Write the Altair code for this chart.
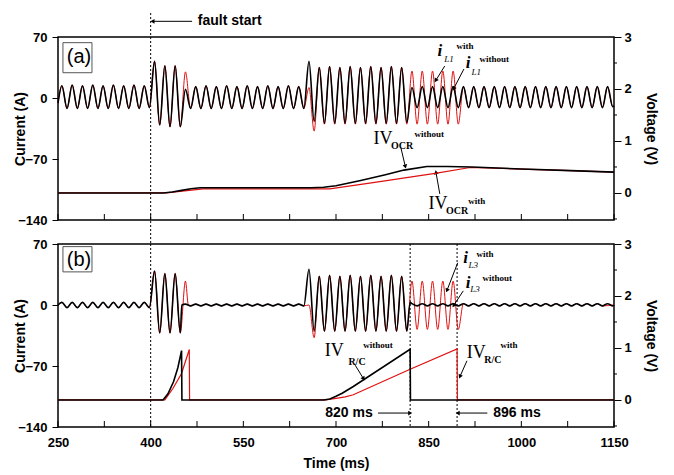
import math
import altair as alt
import pandas as pd

# ---------------- layout constants ----------------
W, H = 556, 183
T_DOM = [250, 1150]
I_DOM = [-140, 70]
V_DOM = [-0.52, 3]
RED = "#e01010"

# ---------------- data ----------------
# times of the successive current extrema (peak, trough, peak, ...) of the 60 Hz traces
ext_t = [round(256.3 + 8.333 * k, 2) for k in range(108)]

# (a) i_L1 without (black) - extrema values, A
a_black_ext = [
    14, -12, 15, -12, 14, -12, 15, -12, 14, -12, 15, -12, 14, -12, 15, -12, 14, -11,
    42, -31, 37, -33, 37, -33,
    10, -12, 13, -12, 14, -12, 13, -12, 14, -12, 13, -12, 14, -12, 13, -12, 14, -12,
    13, -12, 14, -12, 13, -12,
    42, -27, 35, -29, 36, -29, 35, -29, 36, -29, 35, -29, 36, -29, 35, -29, 36, -29,
    35, -28,
    12, -11, 13, -11, 13, -11, 13, -11, 13, -11, 13, -11, 13, -11, 13, -11, 13, -11,
    13, -11, 13, -11, 13, -11, 13, -11, 13, -11, 13, -11, 13, -11, 13, -11, 13, -11,
    13, -11, 13, -10,
]
a_black_extra = [(250, -6), (1150, -9)]

# (a) i_L1 with (red)
a_red_ext = [
    14, -12, 15, -12, 14, -12, 15, -12, 14, -12, 15, -12, 14, -12, 15, -12, 14, -11,
    42, -31, 37, -33, 37, -33,
    30, -12, 13, -12, 14, -12, 13, -12, 14, -12, 13, -12, 14, -12, 13, -12, 14, -12,
    13, -12, 14, -12, 13, -12,
    12, -38, 35, -30, 36, -30, 35, -30, 36, -30, 35, -30, 36, -30, 35, -30, 36, -30,
    35, -30,
    31, -30, 31, -30, 31, -30, 31, -30, 31, -30, 13, -11, 13, -11, 13, -11, 13, -11,
    13, -11, 13, -11, 13, -11, 13, -11, 13, -11, 13, -11, 13, -11, 13, -11, 13, -11,
    13, -11, 13, -10,
]
a_red_extra = [(250, -6), (1150, -9)]

# (b) i_L3 without (black)
b_black_ext = [
    3, -3, 3, -3, 3, -3, 3, -3, 3, -3, 3, -3, 3, -3, 3, -3, 3, -3,
    39, -32, 36, -32, 36, -32,
    1, -1, 1, -1, 1, -1, 1, -1, 1, -1, 1, -1, 1, -1, 1, -1, 1, -1, 1, -1, 1, -1, 1, -1,
    41, -30, 33, -30, 34, -30, 33, -30, 34, -30, 33, -30, 34, -30, 33, -30, 34, -30,
    33, -30,
    1.5, -1, 1.5, -1, 1.5, -1, 1.5, -1, 1.5, -1, 1.5, -1, 1.5, -1, 1.5, -1, 1.5, -1,
    1.5, -1, 1.5, -1, 1.5, -1, 1.5, -1, 1.5, -1, 1.5, -1, 1.5, -1, 1.5, -1, 1.5, -1,
    1.5, -1, 1.5, -1,
]
b_black_extra = [(250, 0), (450.5, 0), (820, 3), (1150, 0)]

# (b) i_L3 with (red)
b_red_ext = [
    3, -3, 3, -3, 3, -3, 3, -3, 3, -3, 3, -3, 3, -3, 3, -3, 3, -3,
    39, -32, 36, -32, 36, -32,
    27.5, -1, 1, -1, 1, -1, 1, -1, 1, -1, 1, -1, 1, -1, 1, -1, 1, -1, 1, -1, 1, -1, 1, -1,
    0, -37.5, 33, -30, 34, -30, 33, -30, 34, -30, 33, -30, 34, -30, 33, -30, 34, -30,
    33, -30,
    27.5, -28, 27.5, -28, 27.5, -28, 27.5, -28, 27.5, -28, 1.5, -1, 1.5, -1, 1.5, -1,
    1.5, -1, 1.5, -1, 1.5, -1, 1.5, -1, 1.5, -1, 1.5, -1, 1.5, -1, 1.5, -1, 1.5, -1,
    1.5, -1, 1.5, -1,
]
b_red_extra = [(250, 0), (461, 0), (1150, 0)]

# voltages (V)
a_black_v_t = [250, 420, 435, 450, 465, 480, 520, 600, 660, 680, 700, 740, 780, 810, 847, 880, 920, 1000, 1080, 1150]
a_black_v = [0.0, 0.0, 0.02, 0.05, 0.08, 0.10, 0.10, 0.10, 0.10, 0.11, 0.14, 0.24, 0.35, 0.44, 0.51, 0.51, 0.50, 0.46, 0.43, 0.40]
a_red_v_t = [250, 425, 440, 455, 470, 485, 520, 600, 690, 760, 863, 917, 1000, 1080, 1150]
a_red_v = [0.0, 0.0, 0.02, 0.04, 0.06, 0.08, 0.08, 0.08, 0.08, 0.20, 0.38, 0.49, 0.46, 0.43, 0.40]
b_black_v_t = [250, 420, 428, 437, 444, 450, 450.6, 680, 690, 700, 710, 728, 820, 820.5, 1150]
b_black_v = [0, 0, 0.12, 0.35, 0.62, 0.95, 0, 0, 0.02, 0.07, 0.13, 0.26, 0.975, 0, 0]
b_red_v_t = [250, 423, 436, 450, 462.5, 463, 683, 700, 715, 728, 820, 896, 896.5, 1150]
b_red_v = [0, 0, 0.22, 0.51, 0.97, 0, 0, 0.03, 0.06, 0.10, 0.59, 0.98, 0, 0]

x_major = [250, 400, 550, 700, 850, 1000, 1150]
x_minor = [325, 475, 625, 775, 925, 1075]
i_ticks = [70, 0, -70, -140]
v_ticks = [0, 1, 2, 3]
v_minor = [-0.5, 0.5, 1.5, 2.5]

# annotations: (text, t, current-position, style)
a_texts = [
    ("fault start", 528, 88, "sans"),
    ("i", 868, 54, "ibig"), ("L1", 883, 45, "isub"), ("with", 909, 60, "sup"),
    ("i", 914, 40, "ibig"), ("L1", 927, 30, "isub"), ("without", 956, 45, "sup"),
    ("IV", 776, -47, "iv"), ("OCR", 807, -55, "bsub"), ("without", 851, -41, "sup"),
    ("IV", 865, -122, "iv"), ("OCR", 896, -130, "bsub"), ("with", 928, -118, "sup"),
]
b_texts = [
    ("i", 910, 54, "ibig"), ("L3", 922, 46, "isub"), ("with", 941, 58.5, "sup"),
    ("i", 914, 25, "ibig"), ("L3", 925, 18, "isub"), ("without", 961, 31, "sup"),
    ("IV", 697, -53, "iv"), ("R/C", 734, -65, "bsub"), ("without", 768, -46, "sup"),
    ("IV", 927, -55, "iv"), ("R/C", 954, -63, "bsub"), ("with", 980, -46, "sup"),
    ("820 ms", 721, -124, "sans"), ("896 ms", 993, -124, "sans"),
]
# arrows: t1, y1 -> t2, y2 (head at the second point)
a_arrows = [
    (467, 88, 404, 88),
    (876, 36.7, 862, 20.7),
    (907, 33.2, 891, 11.4),
    (805, -57, 812, -78),
    (868, -110, 862, -86),
]
b_arrows = [
    (897, 48.4, 880, 17.4),
    (906, 16.2, 891, 0),
    (731, -69, 744, -84),
    (912, -64, 901, -81.5),
    (768, -124, 819, -124),
    (945, -124, 898, -124),
]
# dotted marker lines: t, top, bottom (current units)
a_vlines = [(400, 97.5, -167.5)]
b_vlines = [(400, 70, -140), (820, 70, -140), (896, 70, -140)]
a_box = (258, 305, 63.5, 29, "(a)", 284, 47)
b_box = (258, 305, 67, 38, "(b)", 284, 52)

STYLES = {
    "sans": dict(font="Liberation Sans", fontSize=14, fontWeight="bold"),
    "ibig": dict(font="Liberation Serif", fontSize=17, fontWeight="bold", fontStyle="italic"),
    "isub": dict(font="Liberation Serif", fontSize=9, fontStyle="italic"),
    "sup": dict(font="Liberation Serif", fontSize=9, fontWeight="bold"),
    "iv": dict(font="Liberation Serif", fontSize=18),
    "bsub": dict(font="Liberation Serif", fontSize=10, fontWeight="bold"),
}


def current_df(vals, extra):
    pts = list(zip(ext_t, vals)) + list(extra)
    pts.sort()
    return pd.DataFrame(pts, columns=["t", "v"])


def build_panel(cur_red, cur_black, volt_red, volt_black, texts, arrows, vlines, box, show_x):
    xscale = alt.Scale(domain=T_DOM, nice=False, zero=False)
    if show_x:
        xaxis = alt.Axis(values=x_major, format="d", title="Time (ms)", ticks=False, tickSize=0,
                         labelPadding=9, domain=False, grid=False, labelFlush=False,
                         titleY=36, titleBaseline="middle")
    else:
        xaxis = None
    iscale = alt.Scale(domain=I_DOM, nice=False, zero=False)
    iaxis = alt.Axis(values=i_ticks, format="d", title="Current (A)", orient="left", tickSize=6,
                     labelPadding=5, domain=False, grid=False, labelFlush=False,
                     titleX=-38, titleY=H / 2, titleAngle=270, titleBaseline="middle",
                     titleAlign="center")
    vscale = alt.Scale(domain=V_DOM, nice=False, zero=False)
    vaxis = alt.Axis(values=v_ticks, format="d", title="Voltage (V)", orient="right",
                     tickSize=7, labelPadding=3, domain=False, grid=False, labelFlush=False,
                     titleX=36, titleY=H / 2, titleAngle=90, titleBaseline="middle",
                     titleAlign="center")

    def X(f):
        return alt.X(f, type="quantitative", scale=xscale, axis=xaxis)

    def YI(f):
        return alt.Y(f, type="quantitative", scale=iscale, axis=iaxis)

    def YV(f):
        return alt.Y(f, type="quantitative", scale=vscale, axis=vaxis)

    ticks_df = pd.DataFrame({"t": x_major + x_minor})
    inward = alt.Chart(ticks_df).mark_rule(color="black", strokeWidth=1).encode(
        x=X("t"), y=alt.value(H), y2=alt.value(H - 6))

    vl_df = pd.DataFrame(vlines, columns=["t", "y1", "y2"])
    vl = alt.Chart(vl_df).mark_rule(color="black", strokeWidth=1, strokeDash=[2, 2]).encode(
        x=X("t"), y=YI("y1"), y2="y2")

    red_i = alt.Chart(cur_red).mark_line(color=RED, strokeWidth=1, interpolate="monotone").encode(
        x=X("t"), y=YI("v"))
    black_i = alt.Chart(cur_black).mark_line(color="black", strokeWidth=1.6, interpolate="monotone").encode(
        x=X("t"), y=YI("v"))

    bx = pd.DataFrame([box], columns=["t1", "t2", "y1", "y2", "txt", "tt", "ty"])
    box_rect = alt.Chart(bx).mark_rect(fill="white", stroke="#555555", strokeWidth=1).encode(
        x=X("t1"), x2="t2", y=YI("y1"), y2="y2")
    box_txt = alt.Chart(bx).mark_text(font="Liberation Sans", fontSize=20, color="black",
                                      align="center", baseline="middle").encode(
        x=X("tt"), y=YI("ty"), text="txt:N")

    tdf = pd.DataFrame(texts, columns=["txt", "t", "y", "style"])
    text_layers = []
    for st, kw in STYLES.items():
        sub = tdf[tdf["style"] == st]
        if len(sub) == 0:
            continue
        text_layers.append(
            alt.Chart(sub).mark_text(color="black", align="center", baseline="middle", **kw).encode(
                x=X("t"), y=YI("y"), text="txt:N"))

    arr = pd.DataFrame(arrows, columns=["t1", "y1", "t2", "y2"])
    angs = []
    for _, r in arr.iterrows():
        dx = (r.t2 - r.t1) * W / (T_DOM[1] - T_DOM[0])
        dy = -(r.y2 - r.y1) * H / (I_DOM[1] - I_DOM[0])
        angs.append(math.degrees(math.atan2(dx, -dy)) % 360)
    arr["ang"] = angs
    arr_lines = alt.Chart(arr).mark_rule(color="black", strokeWidth=1).encode(
        x=X("t1"), x2="t2", y=YI("y1"), y2="y2")
    arr_heads = alt.Chart(arr).mark_point(shape="triangle", filled=True, size=22, color="black",
                                          opacity=1).encode(
        x=X("t2"), y=YI("y2"), angle=alt.Angle("ang:Q", scale=None))

    cur_layer = alt.layer(inward, vl, red_i, black_i, box_rect, box_txt, arr_lines, arr_heads,
                          *text_layers)

    vminor = alt.Chart(pd.DataFrame({"v": v_minor})).mark_rule(color="black", strokeWidth=1).encode(
        x=alt.value(W), x2=alt.value(W + 3), y=YV("v"))
    red_v = alt.Chart(volt_red).mark_line(color=RED, strokeWidth=1.2).encode(x=X("t"), y=YV("v"))
    black_v = alt.Chart(volt_black).mark_line(color="black", strokeWidth=1.6).encode(x=X("t"), y=YV("v"))
    volt_layer = alt.layer(vminor, red_v, black_v)

    return alt.layer(cur_layer, volt_layer).resolve_scale(y="independent").properties(width=W, height=H)


pa = build_panel(
    current_df(a_red_ext, a_red_extra), current_df(a_black_ext, a_black_extra),
    pd.DataFrame({"t": a_red_v_t, "v": a_red_v}), pd.DataFrame({"t": a_black_v_t, "v": a_black_v}),
    a_texts, a_arrows, a_vlines, a_box, False)
pb = build_panel(
    current_df(b_red_ext, b_red_extra), current_df(b_black_ext, b_black_extra),
    pd.DataFrame({"t": b_red_v_t, "v": b_red_v}), pd.DataFrame({"t": b_black_v_t, "v": b_black_v}),
    b_texts, b_arrows, b_vlines, b_box, True)

chart = alt.vconcat(pa, pb, spacing=24, bounds="flush").properties(
    padding={"top": 3, "left": 4, "right": 5, "bottom": 2}
).configure_view(stroke="black", strokeWidth=1.5).configure_axis(
    labelFont="Liberation Sans", labelFontSize=13, labelFontWeight="bold", labelColor="black",
    titleFont="Liberation Sans", titleFontSize=14, titleFontWeight="bold", titleColor="black",
    tickColor="black", tickWidth=1, labelOverlap=False,
)

chart.save("out.html", embed_options={"renderer": "svg", "actions": False})
